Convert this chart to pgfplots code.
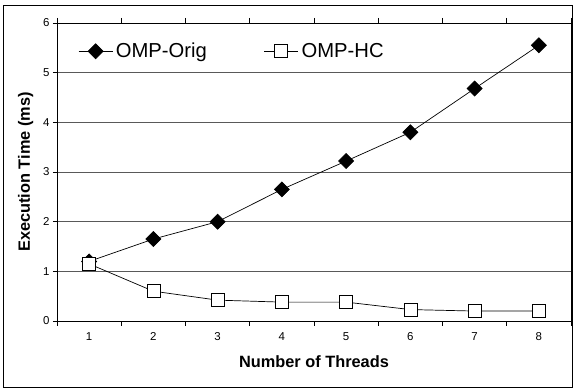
\documentclass[border=0pt]{standalone}
\usepackage{pgfplots}
\pgfplotsset{compat=1.18}
\usepackage{fontspec}
\setmainfont{Liberation Sans}
\begin{document}
\begin{tikzpicture}
\begin{axis}[
  scale only axis, width=514bp, height=298bp,
  xmin=0.5, xmax=8.5, ymin=0, ymax=6,
  xtick={1,...,8},
  minor xtick={0.5,1.5,...,8.5},
  ytick={0,...,6},
  tick align=outside,
  major x tick style={draw=none},
  major tick length=4bp, minor tick length=5bp,
  every tick/.style={black, line width=0.8bp},
  axis line style={black, line width=0.8bp},
  ymajorgrids, grid style={black!65, line width=0.8bp},
  /pgf/number format/assume math mode=true,
  tick label style={font=\fontsize{11.5}{12}\selectfont},
  xticklabel style={yshift=-4bp},
  xlabel={\bfseries Number of Threads},
  ylabel={\bfseries Execution Time (ms)},
  label style={font=\fontsize{16.4}{18}\selectfont},
  xlabel style={yshift=-8bp},
  ylabel style={yshift=3bp},
  legend columns=2,
  legend style={draw=none, fill=none, at={(rel axis cs:0,1)}, anchor=north west,
    xshift=21bp, yshift=-17bp, inner sep=0pt,
    font=\fontsize{20.3}{22}\selectfont,
    nodes={inner sep=3bp},
    /tikz/every even column/.append style={column sep=54bp}},
  legend image code/.code={\draw[mark repeat=2,mark phase=2,#1] plot coordinates {(0bp,0bp) (17bp,0bp) (34bp,0bp)};},
]
\addplot[black, line width=0.7bp, mark=square*, mark size=5.3bp, mark options={rotate=45, fill=black, solid}]
  coordinates {(1,1.2) (2,1.65) (3,2.0) (4,2.65) (5,3.22) (6,3.8) (7,4.68) (8,5.55)};
\addlegendentry{OMP-Orig}
\addplot[black, line width=0.7bp, mark=square*, mark size=6.5bp, mark options={fill=white, draw=black, line width=0.7bp, solid}]
  coordinates {(1,1.15) (2,0.6) (3,0.42) (4,0.38) (5,0.38) (6,0.23) (7,0.2) (8,0.2)};
\addlegendentry{OMP-HC}
\coordinate (ll) at (rel axis cs:0,0);
\coordinate (ur) at (rel axis cs:1,1);
\end{axis}
\draw[black, line width=0.9bp] ([shift={(-54bp,-66bp)}]ll) rectangle ([shift={(1bp,18bp)}]ur);
\pgfresetboundingbox
\useasboundingbox ([shift={(-57bp,-68bp)}]ll) rectangle ([shift={(2bp,23bp)}]ur);
\end{tikzpicture}
\end{document}
